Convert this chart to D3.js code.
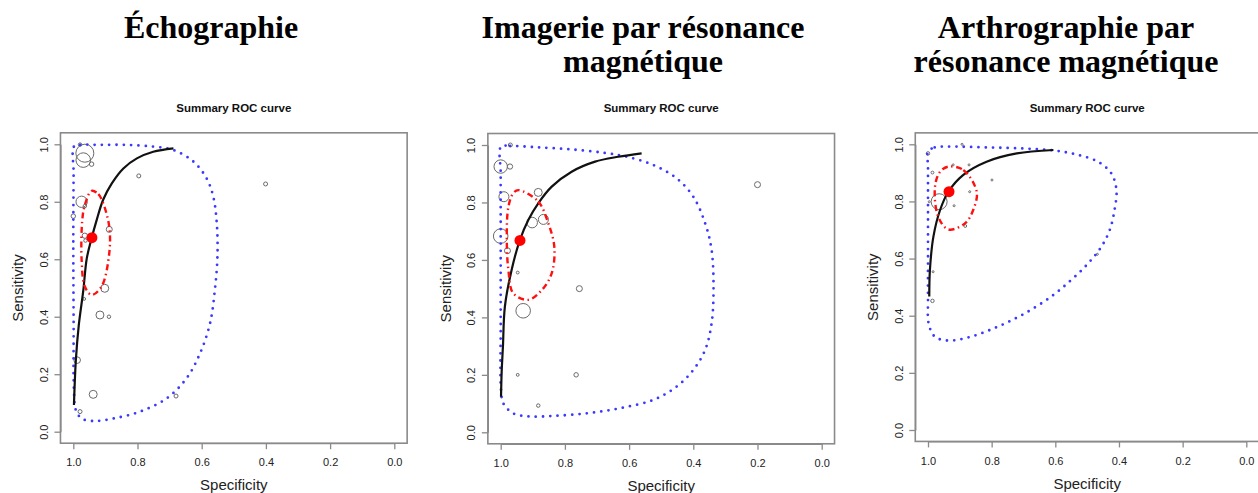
<!DOCTYPE html>
<html><head><meta charset="utf-8">
<script src="https://cdn.jsdelivr.net/npm/d3@7"></script>
<style>html,body{margin:0;padding:0;background:#fff;overflow:hidden}</style>
</head><body><svg id="c" width="1258" height="493"></svg>
<script>
// ---------- DATA ----------
const ticks = [1.0, 0.8, 0.6, 0.4, 0.2, 0.0];
const plotTitle = "Summary ROC curve";
const xLabel = "Specificity";
const yLabel = "Sensitivity";

// Panel 1 : Échographie
const usTitle = ["Échographie"];
const usStudies = [ // [specificity, sensitivity, weight]
  [0.979,0.999,3],[0.964,0.969,81],[0.969,0.945,53],[0.943,0.931,5],[0.796,0.890,4],
  [0.401,0.862,4],[0.974,0.800,32],[0.964,0.785,3],[1.0,0.750,5],[0.888,0.704,9],
  [0.964,0.682,7],[0.962,0.665,3],[0.902,0.499,16],[0.966,0.462,2],[0.917,0.406,16],
  [0.889,0.400,3],[0.988,0.249,11],[0.938,0.130,16],[0.680,0.124,4],[0.979,0.070,4]
];
const usSummary = [0.942, 0.675];
const usCurve = [[0.998,0.093],[0.992,0.25],[0.983,0.37],[0.969,0.49],[0.958,0.603],[0.943,0.673],
  [0.927,0.737],[0.907,0.807],[0.880,0.864],[0.844,0.916],[0.802,0.951],[0.751,0.974],[0.688,0.986]];
const usConf = [[0.943,0.838],[0.922,0.827],[0.907,0.795],[0.888,0.713],[0.888,0.621],[0.912,0.505],
  [0.943,0.476],[0.964,0.505],[0.974,0.597],[0.972,0.737],[0.964,0.789]];
const usPred = [[0.998,0.992],[0.979,0.998],[0.917,0.998],[0.834,0.998],[0.751,0.992],[0.688,0.980],
  [0.626,0.940],[0.585,0.882],[0.564,0.818],[0.553,0.725],[0.551,0.609],[0.559,0.493],[0.574,0.377],
  [0.605,0.273],[0.647,0.186],[0.709,0.116],[0.792,0.070],[0.875,0.046],[0.938,0.037],[0.974,0.046],
  [0.992,0.075],[0.998,0.145],[0.999,0.377],[1.0,0.667],[0.999,0.899]];

// Panel 2 : IRM
const mriTitle = ["Imagerie par résonance", "magnétique"];
const mriStudies = [
  [0.970,1.0,4],[1.0,0.925,45],[0.971,0.925,7],[0.990,0.820,25],[0.883,0.835,16],
  [0.902,0.730,28],[0.867,0.741,25],[1.0,0.683,53],[0.979,0.632,9],[0.947,0.556,2],
  [0.755,0.500,9],[0.930,0.423,53],[0.947,0.200,2],[0.765,0.200,5],[0.883,0.093,3],[0.200,0.862,9]
];
const mriSummary = [0.940, 0.668];
const mriCurve = [[0.999,0.124],[0.997,0.21],[0.993,0.30],[0.987,0.437],[0.966,0.565],[0.940,0.670],
  [0.914,0.739],[0.883,0.797],[0.841,0.855],[0.779,0.907],[0.706,0.942],[0.634,0.959],[0.561,0.971]];
const mriConf = [[0.945,0.843],[0.883,0.803],[0.852,0.728],[0.833,0.646],[0.841,0.554],[0.872,0.495],
  [0.914,0.461],[0.961,0.484],[0.976,0.565],[0.981,0.669],[0.976,0.785],[0.961,0.832]];
const mriPred = [[0.999,0.994],[0.971,0.997],[0.888,0.992],[0.784,0.985],[0.680,0.973],[0.607,0.959],
  [0.524,0.930],[0.452,0.884],[0.400,0.820],[0.363,0.727],[0.343,0.635],[0.337,0.495],[0.343,0.379],
  [0.363,0.287],[0.400,0.217],[0.452,0.159],[0.524,0.113],[0.628,0.084],[0.732,0.066],[0.836,0.057],
  [0.909,0.055],[0.961,0.066],[0.992,0.101],[0.999,0.147],[1.0,0.379],[1.0,0.669],[1.0,0.901]];

// Panel 3 : Arthro-IRM
const mraTitle = ["Arthrographie par", "résonance magnétique"];
const mraStudies = [
  [1.0,0.968,3],[0.893,1.0,1],[0.986,0.901,2],[0.921,0.928,1],[0.871,0.928,1],[0.799,0.875,1],
  [0.869,0.834,1],[0.965,0.799,64],[0.918,0.785,1],[0.996,0.799,1],[0.883,0.714,2],[0.468,0.615,1],
  [0.984,0.554,1],[0.986,0.452,3]
];
const mraSummary = [0.934, 0.834];
const mraCurve = [[0.996,0.467],[0.994,0.560],[0.983,0.677],[0.962,0.770],[0.936,0.834],[0.889,0.893],
  [0.816,0.939],[0.721,0.968],[0.606,0.980]];
const mraConf = [[0.936,0.922],[0.889,0.910],[0.847,0.834],[0.858,0.770],[0.884,0.723],[0.936,0.702],
  [0.968,0.747],[0.978,0.852],[0.962,0.904]];
const mraPred = [[1.0,0.974],[0.979,0.989],[0.937,0.992],[0.812,0.989],[0.696,0.985],[0.602,0.978],
  [0.529,0.963],[0.466,0.939],[0.424,0.898],[0.408,0.840],[0.414,0.770],[0.429,0.700],[0.455,0.642],
  [0.497,0.583],[0.550,0.525],[0.613,0.467],[0.696,0.408],[0.780,0.362],[0.864,0.327],[0.937,0.313],
  [0.979,0.327],[0.998,0.373],[1.0,0.455],[1.0,0.607],[1.0,0.782],[1.0,0.922]];

// ---------- LAYOUT ----------
const panels = [
  {title: usTitle, studies: usStudies, summary: usSummary, curve: usCurve, conf: usConf, pred: usPred,
   x1: 73.3, x0: 394.3, y1: 144.3, y0: 431.7, tx: 211},
  {title: mriTitle, studies: mriStudies, summary: mriSummary, curve: mriCurve, conf: mriConf, pred: mriPred,
   x1: 500.7, x0: 821.7, y1: 145, y0: 432.3, tx: 643},
  {title: mraTitle, studies: mraStudies, summary: mraSummary, curve: mraCurve, conf: mraConf, pred: mraPred,
   x1: 928, x0: 1246.3, y1: 144.3, y0: 430, tx: 1066}
];

const svg = d3.select("#c");
const sans = "'Liberation Sans', Arial, Helvetica, sans-serif";
const rScale = d3.scaleSqrt().domain([0, 100]).range([0, 10]);

panels.forEach(p => {
  const xs = d3.scaleLinear().domain([1, 0]).range([p.x1, p.x0]);
  const ys = d3.scaleLinear().domain([0, 1]).range([p.y0, p.y1]);
  const bl = xs(1.04), br = xs(-0.04), bt = ys(1.04), bb = ys(-0.04);
  const g = svg.append("g");

  // big title
  p.title.forEach((t, i) => {
    g.append("text").attr("x", p.tx).attr("y", 38 + i * 34)
      .attr("text-anchor", "middle")
      .style("font-family", "'Liberation Serif', 'Times New Roman', serif")
      .style("font-weight", "bold").style("font-size", "32px").attr("fill", "#000").text(t);
  });

  // plot title
  g.append("text").attr("x", (bl + br) / 2).attr("y", 112).attr("text-anchor", "middle")
    .style("font-family", sans).style("font-weight", "bold").style("font-size", "11.5px")
    .attr("fill", "#111").text(plotTitle);

  // box
  g.append("rect").attr("x", bl).attr("y", bt).attr("width", br - bl).attr("height", bb - bt)
    .attr("fill", "none").attr("stroke", "#8a8a8a").attr("stroke-width", 1.6);

  // x axis
  const ax = g.append("g").attr("transform", `translate(0,${bb})`)
    .call(d3.axisBottom(xs).tickValues(ticks).tickFormat(d3.format(".1f"))
      .tickSize(6).tickSizeOuter(0).tickPadding(9.5));
  ax.selectAll("path,line").attr("stroke", "#8a8a8a").attr("stroke-width", 1.3);
  ax.selectAll("text").style("font-family", sans).style("font-size", "11px").attr("fill", "#222");

  // y axis
  const ay = g.append("g").attr("transform", `translate(${bl},0)`)
    .call(d3.axisLeft(ys).tickValues(ticks).tickFormat(d3.format(".1f"))
      .tickSize(6).tickSizeOuter(0));
  ay.selectAll("path,line").attr("stroke", "#8a8a8a").attr("stroke-width", 1.3);
  ay.selectAll("text").attr("x", null).attr("dy", null).attr("y", null)
    .attr("text-anchor", "middle").attr("transform", "translate(-12.7,0) rotate(-90)")
    .style("font-family", sans).style("font-size", "11px").attr("fill", "#222");

  // axis labels
  g.append("text").attr("x", (bl + br) / 2).attr("y", bb + 47.3).attr("text-anchor", "middle")
    .style("font-family", sans).style("font-size", "15px").attr("fill", "#222").text(xLabel);
  g.append("text").attr("transform", `translate(${bl - 37},${(bt + bb) / 2}) rotate(-90)`)
    .attr("text-anchor", "middle")
    .style("font-family", sans).style("font-size", "15px").attr("fill", "#222").text(yLabel);

  // studies
  g.append("g").selectAll("circle").data(p.studies).join("circle")
    .attr("cx", d => xs(d[0])).attr("cy", d => ys(d[1])).attr("r", d => rScale(d[2]))
    .attr("fill", "none").attr("stroke", "#6a6a6a").attr("stroke-width", 1);

  // prediction region (blue dotted)
  const lineClosed = d3.line().x(d => xs(d[0])).y(d => ys(d[1])).curve(d3.curveCatmullRomClosed.alpha(0.5));
  g.append("path").attr("d", lineClosed(p.pred)).attr("fill", "none")
    .attr("stroke", "#3a3aff").attr("stroke-width", 2.8).attr("stroke-linecap", "round")
    .attr("stroke-dasharray", "0,7.3");

  // SROC curve
  const lineOpen = d3.line().x(d => xs(d[0])).y(d => ys(d[1])).curve(d3.curveCatmullRom.alpha(0.5));
  g.append("path").attr("d", lineOpen(p.curve)).attr("fill", "none")
    .attr("stroke", "#111").attr("stroke-width", 2.2);

  // confidence region (red dash-dot)
  g.append("path").attr("d", lineClosed(p.conf)).attr("fill", "none")
    .attr("stroke", "#ff1010").attr("stroke-width", 2.4)
    .attr("stroke-dasharray", "6,3.5,1.5,3.5");

  // summary point
  g.append("circle").attr("cx", xs(p.summary[0])).attr("cy", ys(p.summary[1])).attr("r", 5.5)
    .attr("fill", "#ff0000");
});
</script></body></html>
